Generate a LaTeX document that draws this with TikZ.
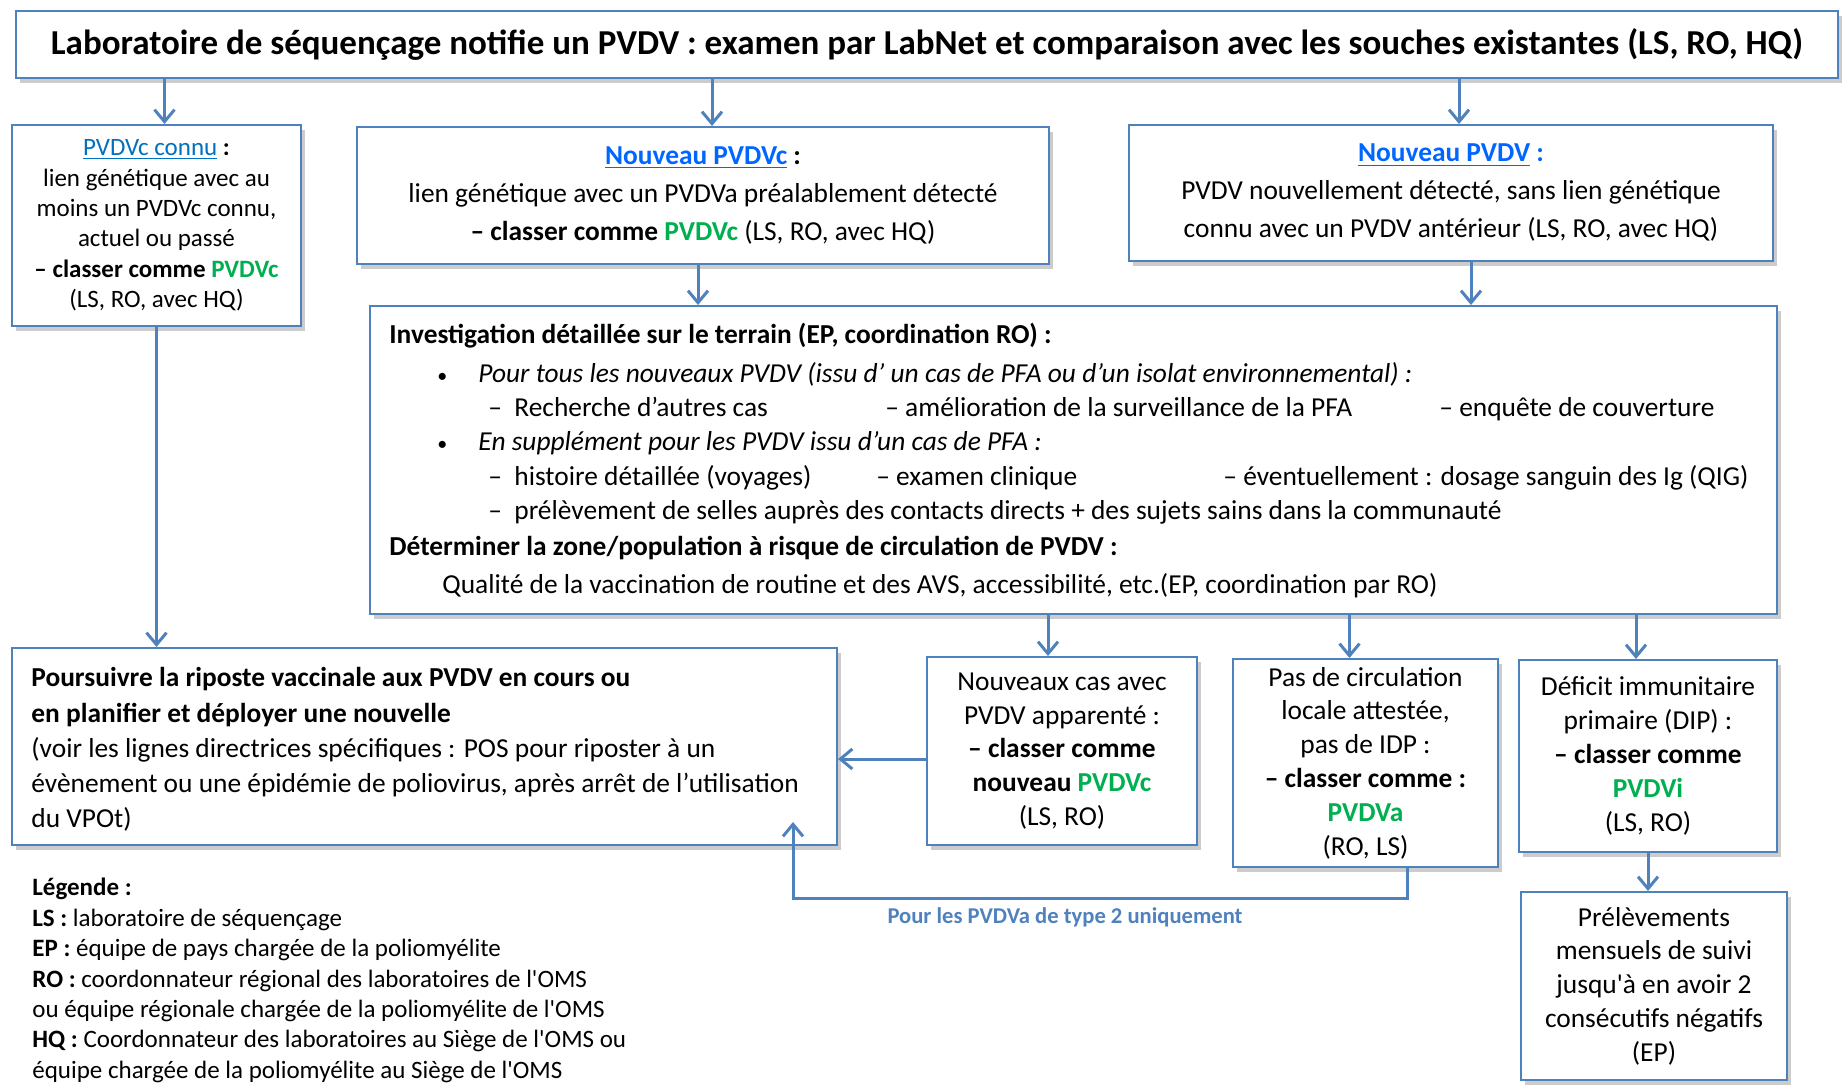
\documentclass[tikz,border=0pt]{standalone}
\usepackage{fontspec}
\setmainfont{Carlito}
\usetikzlibrary{arrows.meta,positioning,shadows}

\definecolor{boxblue}{RGB}{79,129,189}
\definecolor{linkblue}{RGB}{0,112,192}
\definecolor{newblue}{RGB}{0,102,255}
\definecolor{vert}{RGB}{0,176,80}

\begin{document}
\begin{tikzpicture}[x=0.5pt,y=-0.5pt,
	box/.style={draw=boxblue,line width=1pt,fill=white,inner sep=0pt,
		drop shadow={shadow xshift=2pt,shadow yshift=-2.5pt,opacity=0.4}},
	arr/.style={draw=boxblue,line width=1.5pt,-{Straight Barb[length=6pt,width=10pt]}},
	big/.style={font=\fontsize{13.7}{16.9}\selectfont},
	small/.style={font=\fontsize{12.5}{15.2}\selectfont},
	dline/.style={anchor=base west,inner sep=0pt,font=\fontsize{13.7}{16}\selectfont}]
\useasboundingbox (0,0) rectangle (1848,1085);

% top
\node [box,minimum width=911pt,minimum height=33.5pt,font=\bfseries\fontsize{17.5}{20}\selectfont] (top) at (927,44.5)
	{Laboratoire de séquençage notifie un PVDV : examen par LabNet et comparaison avec les souches existantes (LS, RO, HQ)};

% second row
\node [box,small,align=center,minimum width=144.5pt,minimum height=100.5pt] (A) at (156.5,225.5)
	{\textcolor{linkblue}{\underline{PVDVc connu}} \textbf{:}\\ lien génétique avec au\\ moins un PVDVc connu,\\ actuel ou passé\\
	\textbf{– classer comme \textcolor{vert}{PVDVc}}\\ (LS, RO, avec HQ)};
\node [box,align=center,minimum width=346pt,minimum height=68.5pt,font=\fontsize{13.7}{19}\selectfont] (B) at (703,195.5)
	{\textbf{\textcolor{newblue}{\underline{Nouveau PVDVc}} :}\\ lien génétique avec un PVDVa préalablement détecté\\
	\textbf{– classer comme \textcolor{vert}{PVDVc}} (LS, RO, avec HQ)};
\node [box,align=center,minimum width=322pt,minimum height=68pt,font=\fontsize{13.7}{19}\selectfont] (C) at (1451,193)
	{\textbf{\textcolor{newblue}{\underline{Nouveau PVDV} :}}\\ PVDV nouvellement détecté, sans lien génétique\\
	connu avec un PVDV antérieur (LS, RO, avec HQ)};

% investigation
\node [box,minimum width=703.5pt,minimum height=154pt] (D) at (1073.5,460) {};
\node [dline] (d1) at (389,344) {\textbf{Investigation détaillée sur le terrain (EP, coordination RO) :}};
\node [dline] (d2) at (437,383) {\makebox[20.5pt][l]{\fontsize{10}{10}\selectfont•}\textit{Pour tous les nouveaux PVDV (issu d’ un cas de PFA ou d’un isolat environnemental) :}};
\node [dline] (d3) at (488,417) {\makebox[13pt][l]{–}Recherche d’autres cas};
\node [dline] (d4) at (885,417) {– amélioration de la surveillance de la PFA};
\node [dline] (d5) at (1439,417) {– enquête de couverture};
\node [dline] (d6) at (437,451) {\makebox[20.5pt][l]{\fontsize{10}{10}\selectfont•}\textit{En supplément pour les PVDV issu d’un cas de PFA :}};
\node [dline] (d7) at (488,486) {\makebox[13pt][l]{–}histoire détaillée (voyages)};
\node [dline] (d8) at (876,486) {– examen clinique};
\node [dline] (d9) at (1223,486) {– éventuellement : dosage sanguin des Ig (QIG)};
\node [dline] (d10) at (488,520) {\makebox[13pt][l]{–}prélèvement de selles auprès des contacts directs + des sujets sains dans la communauté};
\node [dline] (d11) at (389,556) {\textbf{Déterminer la zone/population à risque de circulation de PVDV :}};
\node [dline] (d12) at (442,594) {Qualité de la vaccination de routine et des AVS, accessibilité, etc.(EP, coordination par RO)};

% bottom row
\node [box,minimum width=412.5pt,minimum height=98.5pt] (E) at (424.5,746.5) {};
\node [anchor=west,inner sep=0pt,align=left,font=\fontsize{13.7}{17.6}\selectfont] (Etext) at ([xshift=10pt,yshift=-1.5pt]E.west)
	{\textbf{Poursuivre la riposte vaccinale aux PVDV en cours ou}\\ \textbf{en planifier et déployer une nouvelle}\\
	(voir les lignes directrices spécifiques : POS pour riposter à un\\
	évènement ou une épidémie de poliovirus, après arrêt de l’utilisation\\ du VPOt)};
\node [box,big,align=center,minimum width=135pt,minimum height=94pt] (F) at (1062,751)
	{Nouveaux cas avec\\ PVDV apparenté :\\ \textbf{– classer comme}\\ \textbf{nouveau \textcolor{vert}{PVDVc}}\\ (LS, RO)};
\node [box,big,align=center,minimum width=132.5pt,minimum height=104pt] (G) at (1365.5,763)
	{Pas de circulation\\ locale attestée,\\ pas de IDP :\\ \textbf{– classer comme :}\\ \textbf{\textcolor{vert}{PVDVa}}\\ (RO, LS)};
\node [box,big,align=center,minimum width=129pt,minimum height=96pt] (H) at (1648,756)
	{Déficit immunitaire\\ primaire (DIP) :\\ \textbf{– classer comme}\\ \textbf{\textcolor{vert}{PVDVi}}\\ (LS, RO)};
\node [box,big,align=center,minimum width=133pt,minimum height=94pt] (I) at (1654,986)
	{Prélèvements\\ mensuels de suivi\\ jusqu\textquotesingle à en avoir 2\\ consécutifs négatifs\\ (EP)};

% legend
\node [small,anchor=north west,inner sep=0pt,align=left] (legend) at (32,878)
	{\textbf{Légende :}\\ \textbf{LS :} laboratoire de séquençage\\ \textbf{EP :} équipe de pays chargée de la poliomyélite\\
	\textbf{RO :} coordonnateur régional des laboratoires de l\textquotesingle OMS\\ ou équipe régionale chargée de la poliomyélite de l\textquotesingle OMS\\
	\textbf{HQ :} Coordonnateur des laboratoires au Siège de l\textquotesingle OMS ou\\ équipe chargée de la poliomyélite au Siège de l\textquotesingle OMS};

% arrows
\draw [arr] ([xshift=4pt]A.north |- top.south) -- ([xshift=4pt]A.north);
\draw [arr] ([xshift=4.5pt]B.north |- top.south) -- ([xshift=4.5pt]B.north);
\draw [arr] ([xshift=4pt]C.north |- top.south) -- ([xshift=4pt]C.north);
\draw [arr] ([xshift=-2.5pt]B.south) -- ([xshift=-2.5pt]B.south |- D.north);
\draw [arr] ([xshift=10pt]C.south) -- ([xshift=10pt]C.south |- D.north);
\draw [arr] (A.south) -- (A.south |- E.north);
\draw [arr] ([xshift=-7pt]F.north |- D.south) -- ([xshift=-7pt]F.north);
\draw [arr] ([xshift=-8pt]G.north |- D.south) -- ([xshift=-8pt]G.north);
\draw [arr] ([xshift=-6pt]H.north |- D.south) -- ([xshift=-6pt]H.north);
\draw [arr] (H.south) -- (H.south |- I.north);
\draw [arr] ([yshift=-4pt]F.west) -- ([yshift=-4pt]F.west -| E.east);
\coordinate (turn) at (793,898);
\coordinate (tip) at (793,822);
\draw [arr] ([xshift=21pt]G.south) |- (turn) -- (tip);
\node [text=boxblue,font=\bfseries\fontsize{11.3}{13}\selectfont] (type2) at (1065,917) {Pour les PVDVa de type 2 uniquement};
\end{tikzpicture}
\end{document}
